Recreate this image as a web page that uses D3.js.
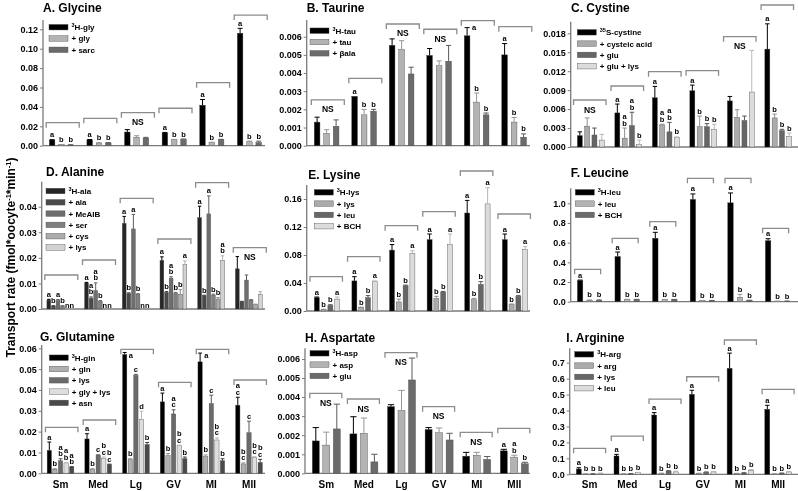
<!DOCTYPE html>
<html><head><meta charset="utf-8">
<script src="https://cdn.jsdelivr.net/npm/d3@7"></script>
<style>
body{margin:0;background:#fff}
svg{display:block;will-change:transform}
text{font-family:"Liberation Sans",Arial,sans-serif;font-weight:bold;-webkit-font-smoothing:antialiased}
</style>
</head><body>
<svg id="chart" width="798" height="491"></svg>
<script>
const groups = ["Sm","Med","Lg","GV","MI","MII"];

// A. Glycine
const glySeries = ["³H-gly","+ gly","+ sarc"];
const glyMean = [[0.0059,0.0010,0.0008],[0.0060,0.0028,0.0029],[0.0141,0.0088,0.0080],[0.0132,0.0062,0.0065],[0.0418,0.0032,0.0062],[0.1160,0.0040,0.0033]];
const glyErr = [[0.0003,0.0002,0.0002],[0.0004,0.0003,0.0003],[0.0025,0.0015,0.0006],[0.0005,0.0003,0.0004],[0.0058,0.0004,0.0004],[0.0050,0.0008,0.0014]];
const glyLetters = [["a","b","b"],["a","b","b"],"NS",["a","b","b"],["a","b","b"],["a","b","b"]];
const glyBracket = [0.0237,0.0282,0.0340,0.0386,0.0650,0.1347];

// B. Taurine
const tauSeries = ["³H-tau","+ tau","+ βala"];
const tauMean = [[0.00130,0.00068,0.00107],[0.00272,0.00170,0.00190],[0.00553,0.00530,0.00395],[0.00497,0.00440,0.00465],[0.00605,0.00240,0.00170],[0.00500,0.00130,0.00047]];
const tauErr = [[0.00027,0.00020,0.00035],[0,0.00030,0.00010],[0.00035,0.00048,0.00037],[0.00038,0.00027,0.00087],[0.00045,0.00050,0.00010],[0.00062,0.00025,0.00018]];
const tauLetters = ["NS",["a","b","b"],"NS","NS",["a","b","b"],["a","b","b"]];
const tauBracket = [0.00252,0.00371,0.00670,0.00641,0.00688,0.00655];

// C. Cystine
const cysSeries = ["³⁵S-cystine","+ cysteic acid","+ glu","+ glu + lys"];
const cysMean = [[0.0018,0.0033,0.0019,0.0011],[0.0054,0.0014,0.0034,0.0004],[0.0078,0.0035,0.0024,0.0015],[0.0089,0.0032,0.0032,0.0028],[0.0073,0.0047,0.0042,0.0087],[0.0155,0.0046,0.0026,0.0017]];
const cysErr = [[0.0006,0.0013,0.0011,0.0009],[0.0014,0.0016,0.0021,0.0007],[0.0018,0.0001,0.0015,0.0001],[0.0009,0.0017,0.0005,0.0008],[0.0007,0.0012,0.0007,0.0066],[0.0040,0.0006,0.0002,0.0005]];
const cysLetters = ["NS",["a","a/b","a/b","b"],["a","a/b","a/b","b"],["a","b","b","b"],"NS",["a","b","b","b"]];
const cysBracket = [0.00744,0.00966,0.01192,0.01208,0.01746,0.02248];

// D. Alanine
const alaSeries = ["³H-ala","+ ala","+ MeAIB","+ ser","+ cys","+ lys"];
const alaMean = [[0.0035,0.0012,0.0033,0.0012,0,0],[0.0102,0.0042,0.0072,0.0030,0,0],[0.0335,0.0061,0.0313,0.0058,0,0],[0.0190,0.0065,0.0120,0.0062,0.0058,0.0173],[0.0357,0.0052,0.0372,0.0055,0.0039,0.0190],[0.0157,0.0029,0.0113,0.0035,0.0018,0.0058]];
const alaErr = [[0.0003,0.0001,0.0004,0.0001,0,0],[0.0002,0.0005,0.0030,0.0003,0,0],[0.0027,0.0002,0.0057,0.0002,0,0],[0.0014,0.0003,0.0006,0.0003,0.0018,0.0015],[0.0045,0.0002,0.0070,0.0003,0.0006,0.0018],[0.0048,0.0001,0.0020,0.0002,0.0001,0.0010]];
const alaLetters = [["a","b","a","b","n","n"],["a","a/b","a/b","b","n","n"],["a","b","a","b","n","n"],["a","b","a/b","b","b","a"],["a","b","a","b","b","a/b"],"NS"];
const alaBracket = [0.01329,0.01916,0.04328,0.02737,0.04939,0.02397];

// E. Lysine
const lysSeries = ["³H-lys","+ lys","+ leu","+ BCH"];
const lysMean = [[0.019,0.002,0.008,0.017],[0.043,0.005,0.019,0.042],[0.087,0.013,0.036,0.082],[0.102,0.018,0.027,0.095],[0.140,0.016,0.038,0.153],[0.102,0.009,0.021,0.088]];
const lysErr = [[0.001,0.0005,0.001,0.003],[0.006,0.0005,0.003,0.001],[0.008,0.004,0.001,0.004],[0.008,0.003,0.001,0.015],[0.018,0.002,0.004,0.023],[0.008,0.001,0.001,0.004]];
const lysLetters = [["a","b","b","a"],["a","b","b","a"],["a","b","b","a"],["a","b","b","a"],["a","b","b","a"],["a","b","b","a"]];
const lysBracket = [0.0490,0.0776,0.1219,0.1419,0.2000,0.1386];

// F. Leucine
const leuSeries = ["³H-leu","+ leu","+ BCH"];
const leuMean = [[0.215,0.015,0.015],[0.460,0.020,0.020],[0.645,0.020,0.020],[1.040,0.010,0.010],[1.005,0.045,0.012],[0.620,0.005,0.005]];
const leuErr = [[0.005,0.003,0.003],[0.045,0.005,0.004],[0.060,0.003,0.003],[0.055,0.003,0.003],[0.100,0.030,0.003],[0.020,0.002,0.002]];
const leuLetters = [["a","b","b"],["a","b","b"],["a","b","b"],["a","b","b"],["a","b","b"],["a","b","b"]];
const leuBracket = [0.329,0.644,0.813,1.254,1.254,0.746];

// G. Glutamine
const glnSeries = ["³H-gln","+ gln","+ lys","+ gly + lys","+ asn"];
const glnMean = [[0.0110,0.0020,0.0060,0.0050,0.0030],[0.0165,0.0020,0.0087,0.0070,0.0042],[0.0570,0.0065,0.0470,0.0258,0.0138],[0.0343,0.0085,0.0285,0.0133,0.0070],[0.0535,0.0080,0.0335,0.0160,0.0060],[0.0327,0.0045,0.0195,0.0075,0.0052]];
const glnErr = [[0.0040,0.0002,0.0010,0.0002,0.0002],[0.0025,0.0002,0.0002,0.0008,0.0002],[0.0010,0.0005,0.0005,0.0040,0.0010],[0.0042,0.0010,0.0020,0.0002,0.0008],[0.0042,0.0008,0.0040,0.0010,0.0010],[0.0038,0.0005,0.0055,0.0005,0.0015]];
const glnLetters = [["a","b","a/b","a/b","a/b"],["a","b","c","b/c","b/c"],["a","b","c","d","b"],["a","b","a/c","b/c","b"],["a","b","c","b/c","b"],["a/c","b/c","c","b/c","b/c"]];
const glnBracket = [0.02208,0.02559,0.05953,0.04369,0.05953,0.04479];

// H. Aspartate
const aspSeries = ["³H-asp","+ asp","+ glu"];
const aspMean = [[0.00170,0.00148,0.00233],[0.00207,0.00210,0.00060],[0.00350,0.00330,0.00490],[0.00230,0.00213,0.00175],[0.00090,0.00095,0.00073],[0.00118,0.00085,0.00050]];
const aspErr = [[0.00070,0.00068,0.00130],[0.00090,0.00080,0.00040],[0.00010,0.00105,0.00115],[0.00010,0.00025,0.00035],[0.00020,0.00015,0.00015],[0.00008,0.00010,0.00008]];
const aspLetters = ["NS","NS","NS","NS","NS",["a","a/b","b"]];
const aspBracket = [0.00420,0.00390,0.00633,0.00350,0.00215,0.00236];

// I. Arginine
const argSeries = ["³H-arg","+ arg","+ lys","+ leu"];
const argMean = [[0.033,0.002,0.002,0.006],[0.115,0.002,0.003,0.010],[0.372,0.005,0.020,0.015],[0.502,0.005,0.012,0.015],[0.665,0.005,0.008,0.025],[0.408,0.002,0.006,0.015]];
const argErr = [[0.008,0.001,0.001,0.002],[0.010,0.001,0.001,0.002],[0.015,0.002,0.003,0.005],[0.025,0.002,0.003,0.003],[0.095,0.001,0.002,0.005],[0.025,0.001,0.002,0.003]];
const argLetters = [["a","b","b","b"],["a","b","b","b"],["a","b","b","b"],["a","b","b","b"],["a","b","b","b"],["a","b","b","b"]];
const argBracket = [0.163,0.240,0.472,0.612,0.8425,0.533];

const yTitle = "Transport rate  (fmol*oocyte";

const col3 = ["#000000","#b3b3b3","#6b6b6b"];
const col4 = ["#000000","#ababab","#666666","#dcdcdc"];
const colG = ["#000000","#b0b0b0","#6a6a6a","#dedede","#4a4a4a"];
const colD = ["#262626","#4a4a4a","#6e6e6e","#808080","#ababab","#d2d2d2"];

const panels = [
 {title:"A.  Glycine", series:glySeries, mean:glyMean, err:glyErr, letters:glyLetters, bracket:glyBracket, colors:col3,
  L:{ax:43,y0:145.7,tmax:0.12,ytm:29.3,atop:20,tstep:0.02,fmt:".2f",xEnd:265,c0:61.4,step:37.6,pitch:9.3,bw:5.6,bdx:1.3,bwid:33,tx:43,ty:12,lx:49,ly:27.2,showX:false}},
 {title:"B.  Taurine", series:tauSeries, mean:tauMean, err:tauErr, letters:tauLetters, bracket:tauBracket, colors:col3,
  L:{ax:306.7,y0:145.7,tmax:0.006,ytm:36.7,atop:20,tstep:0.001,fmt:".3f",xEnd:530,c0:326.6,step:37.5,pitch:9.5,bw:5.7,bdx:1.2,bwid:33,tx:306.7,ty:12,lx:310,ly:30.7,showX:false}},
 {title:"C. Cystine", series:cysSeries, mean:cysMean, err:cysErr, letters:cysLetters, bracket:cysBracket, colors:col4,
  L:{ax:570.7,y0:147,tmax:0.018,ytm:33.3,atop:21.7,tstep:0.003,fmt:".3f",xEnd:798,c0:590.8,step:37.5,pitch:7.3,bw:5,bdx:-1,bwid:32.5,tx:571,ty:12,lx:577.3,ly:32.3,showX:false}},
 {title:"D.  Alanine", series:alaSeries, mean:alaMean, err:alaErr, letters:alaLetters, bracket:alaBracket, colors:colD,
  L:{ax:41.7,y0:309,tmax:0.04,ytm:206.7,atop:181.7,tstep:0.01,fmt:".2f",xEnd:265,c0:60.3,step:37.7,pitch:4.6,bw:3.8,bdx:1,bwid:33,tx:46,ty:176,lx:46,ly:191,showX:false}},
 {title:"E.  Lysine", series:lysSeries, mean:lysMean, err:lysErr, letters:lysLetters, bracket:lysBracket, colors:col4,
  L:{ax:306.7,y0:311,tmax:0.16,ytm:199,atop:185,tstep:0.04,fmt:".2f",xEnd:530,c0:327,step:37.6,pitch:6.8,bw:5,bdx:-0.8,bwid:32.5,tx:308.3,ty:178.6,lx:314.3,ly:192.3,showX:false}},
 {title:"F.  Leucine", series:leuSeries, mean:leuMean, err:leuErr, letters:leuLetters, bracket:leuBracket, colors:col3,
  L:{ax:570.7,y0:301.7,tmax:1.0,ytm:203.3,atop:188.3,tstep:0.2,fmt:".1f",xEnd:798,c0:589.6,step:37.6,pitch:9.5,bw:5.5,bdx:-2,bwid:26,tx:570.7,ty:177,lx:575.3,ly:192.3,showX:false}},
 {title:"G.  Glutamine", series:glnSeries, mean:glnMean, err:glnErr, letters:glnLetters, bracket:glnBracket, colors:colG,
  L:{ax:41.7,y0:473.3,tmax:0.06,ytm:348.3,atop:345,tstep:0.01,fmt:".2f",xEnd:265,c0:60.5,step:37.7,pitch:5.6,bw:4.3,bdx:1.2,bwid:32.5,tx:40,ty:341,lx:49.3,ly:357.7,showX:true}},
 {title:"H.  Aspartate", series:aspSeries, mean:aspMean, err:aspErr, letters:aspLetters, bracket:aspBracket, colors:col3,
  L:{ax:305,y0:473.3,tmax:0.006,ytm:359,atop:348.3,tstep:0.001,fmt:".3f",xEnd:530,c0:326.3,step:37.6,pitch:10.5,bw:7,bdx:-0.5,bwid:32,tx:305,ty:342,lx:310,ly:353.3,showX:true}},
 {title:"I.  Arginine", series:argSeries, mean:argMean, err:argErr, letters:argLetters, bracket:argBracket, colors:col4,
  L:{ax:569.7,y0:474.3,tmax:0.7,ytm:362.7,atop:348.3,tstep:0.1,fmt:".1f",xEnd:798,c0:589.6,step:37.7,pitch:7.2,bw:5,bdx:0,bwid:32,tx:566.3,ty:342,lx:574.7,ly:354.3,showX:true}}
];

const svg = d3.select("#chart");
const FONT = "Liberation Sans, Arial, sans-serif";
const axisCol = "#7a7a7a";
const bracketCol = "#8c8c8c";
const supMap = {"³":"3","⁵":"5"};
const LF = 7.5, LP = 6.6;

function labelText(sel, s) {
  const m = s.match(/^([³⁵]+)(.*)$/);
  if (m) {
    sel.append("tspan").attr("font-size",5.5).attr("dy",-3).text(m[1].split("").map(c=>supMap[c]).join(""));
    sel.append("tspan").attr("dy",3).text(m[2]);
  } else sel.text(s);
}

function drawPanel(p) {
  const L = p.L;
  const g = svg.append("g");
  const y = d3.scaleLinear().domain([0, L.tmax]).range([L.y0, L.ytm]);
  const gx = d3.scalePoint().domain(groups).range([L.c0, L.c0 + 5*L.step]);
  const n = p.series.length;
  const sx = d3.scalePoint().domain(d3.range(n)).range([-(n-1)*L.pitch/2, (n-1)*L.pitch/2]);
  const color = d3.scaleOrdinal().domain(d3.range(n)).range(p.colors);

  const ticks = d3.range(0, L.tmax + L.tstep/2, L.tstep);
  g.append("g").attr("transform",`translate(${L.ax},0)`)
    .call(d3.axisLeft(y).tickValues(ticks).tickFormat(d3.format(L.fmt)).tickSize(3).tickPadding(2))
    .call(a=>a.select(".domain").remove())
    .call(a=>a.selectAll("line").attr("stroke",axisCol).attr("stroke-width",1))
    .attr("font-size",9).attr("font-family",FONT).attr("font-weight","bold")
    .call(a=>a.selectAll("text").attr("fill","#000"));
  g.append("line").attr("x1",L.ax).attr("x2",L.ax).attr("y1",L.y0).attr("y2",L.atop)
    .attr("stroke",axisCol).attr("stroke-width",1.3);
  g.append("line").attr("x1",L.ax).attr("x2",L.xEnd).attr("y1",L.y0).attr("y2",L.y0)
    .attr("stroke",axisCol).attr("stroke-width",1.3);

  g.append("text").attr("x",L.tx).attr("y",L.ty).attr("font-size",12).attr("fill","#000").text(p.title);

  groups.forEach((grp, gi) => {
    const cx = gx(grp);
    p.mean[gi].forEach((v, si) => {
      const bx = cx + sx(si);
      const c = color(si);
      if (v > 0) {
        g.append("rect").attr("x", bx - L.bw/2).attr("y", y(v)).attr("width", L.bw)
          .attr("height", L.y0 - y(v)).attr("fill", c).attr("stroke", "#4a4a4a").attr("stroke-width",0.4);
      }
      const e = p.err[gi][si];
      if (e > 0) {
        const ec = si === 0 ? "#000" : d3.color(c).darker(0.5).formatHex();
        g.append("line").attr("x1",bx).attr("x2",bx).attr("y1",y(v)).attr("y2",y(v+e)).attr("stroke",ec).attr("stroke-width",1);
        g.append("line").attr("x1",bx - L.bw*0.45).attr("x2",bx + L.bw*0.45).attr("y1",y(v+e)).attr("y2",y(v+e)).attr("stroke",ec).attr("stroke-width",1);
      }
    });

    const by = y(p.bracket[gi]);
    const bcx = cx + L.bdx;
    g.append("path").attr("d",`M${bcx-L.bwid/2},${by+5}V${by}H${bcx+L.bwid/2}V${by+5}`)
      .attr("fill","none").attr("stroke",bracketCol).attr("stroke-width",1.3);

    const lt = p.letters[gi];
    if (lt === "NS") {
      g.append("text").attr("x",bcx).attr("y",by+12.5).attr("text-anchor","middle").attr("font-size",8.5).attr("fill","#000").text("NS");
    } else {
      lt.forEach((s, si) => {
        const v = p.mean[gi][si], e = p.err[gi][si];
        const bx = cx + sx(si);
        const lines = s.split("/");
        let base = v > 0 ? y(v + e) - 2.5 : L.y0 - 1;
        let x = bx, anchor = "middle";
        const topY = base - LP*(lines.length-1) - 6;
        if (topY < by + 1) { x = bx + L.bw/2 + 2; anchor = "start"; base = by + 9 + LP*(lines.length-1); }
        lines.forEach((ch, li) => {
          g.append("text").attr("x",x).attr("y",base - LP*(lines.length-1-li))
            .attr("text-anchor",anchor).attr("font-size",LF).attr("fill","#000").text(ch);
        });
      });
    }
    if (L.showX) {
      g.append("text").attr("x",cx).attr("y",488).attr("text-anchor","middle").attr("font-size",10).attr("fill","#000").text(grp);
    }
  });

  p.series.forEach((s, si) => {
    const yy = L.ly + si*11.3;
    g.append("rect").attr("x",L.lx).attr("y",yy-2.75).attr("width",19).attr("height",5.5)
      .attr("fill",color(si)).attr("stroke","#4a4a4a").attr("stroke-width",0.4);
    const t = g.append("text").attr("x",L.lx+22.5).attr("y",yy+2.9).attr("font-size",8).attr("fill","#000");
    labelText(t, s);
  });
}

panels.forEach(drawPanel);

const yt = svg.append("text").attr("transform","translate(15,257.5) rotate(-90)")
  .attr("text-anchor","middle").attr("font-size",12).attr("fill","#000");
yt.append("tspan").text(yTitle);
yt.append("tspan").attr("font-size",7.5).attr("dy",-4.5).text("-1");
yt.append("tspan").attr("dy",4.5).text("*min");
yt.append("tspan").attr("font-size",7.5).attr("dy",-4.5).text("-1");
yt.append("tspan").attr("dy",4.5).text(")");
</script>
</body></html>
